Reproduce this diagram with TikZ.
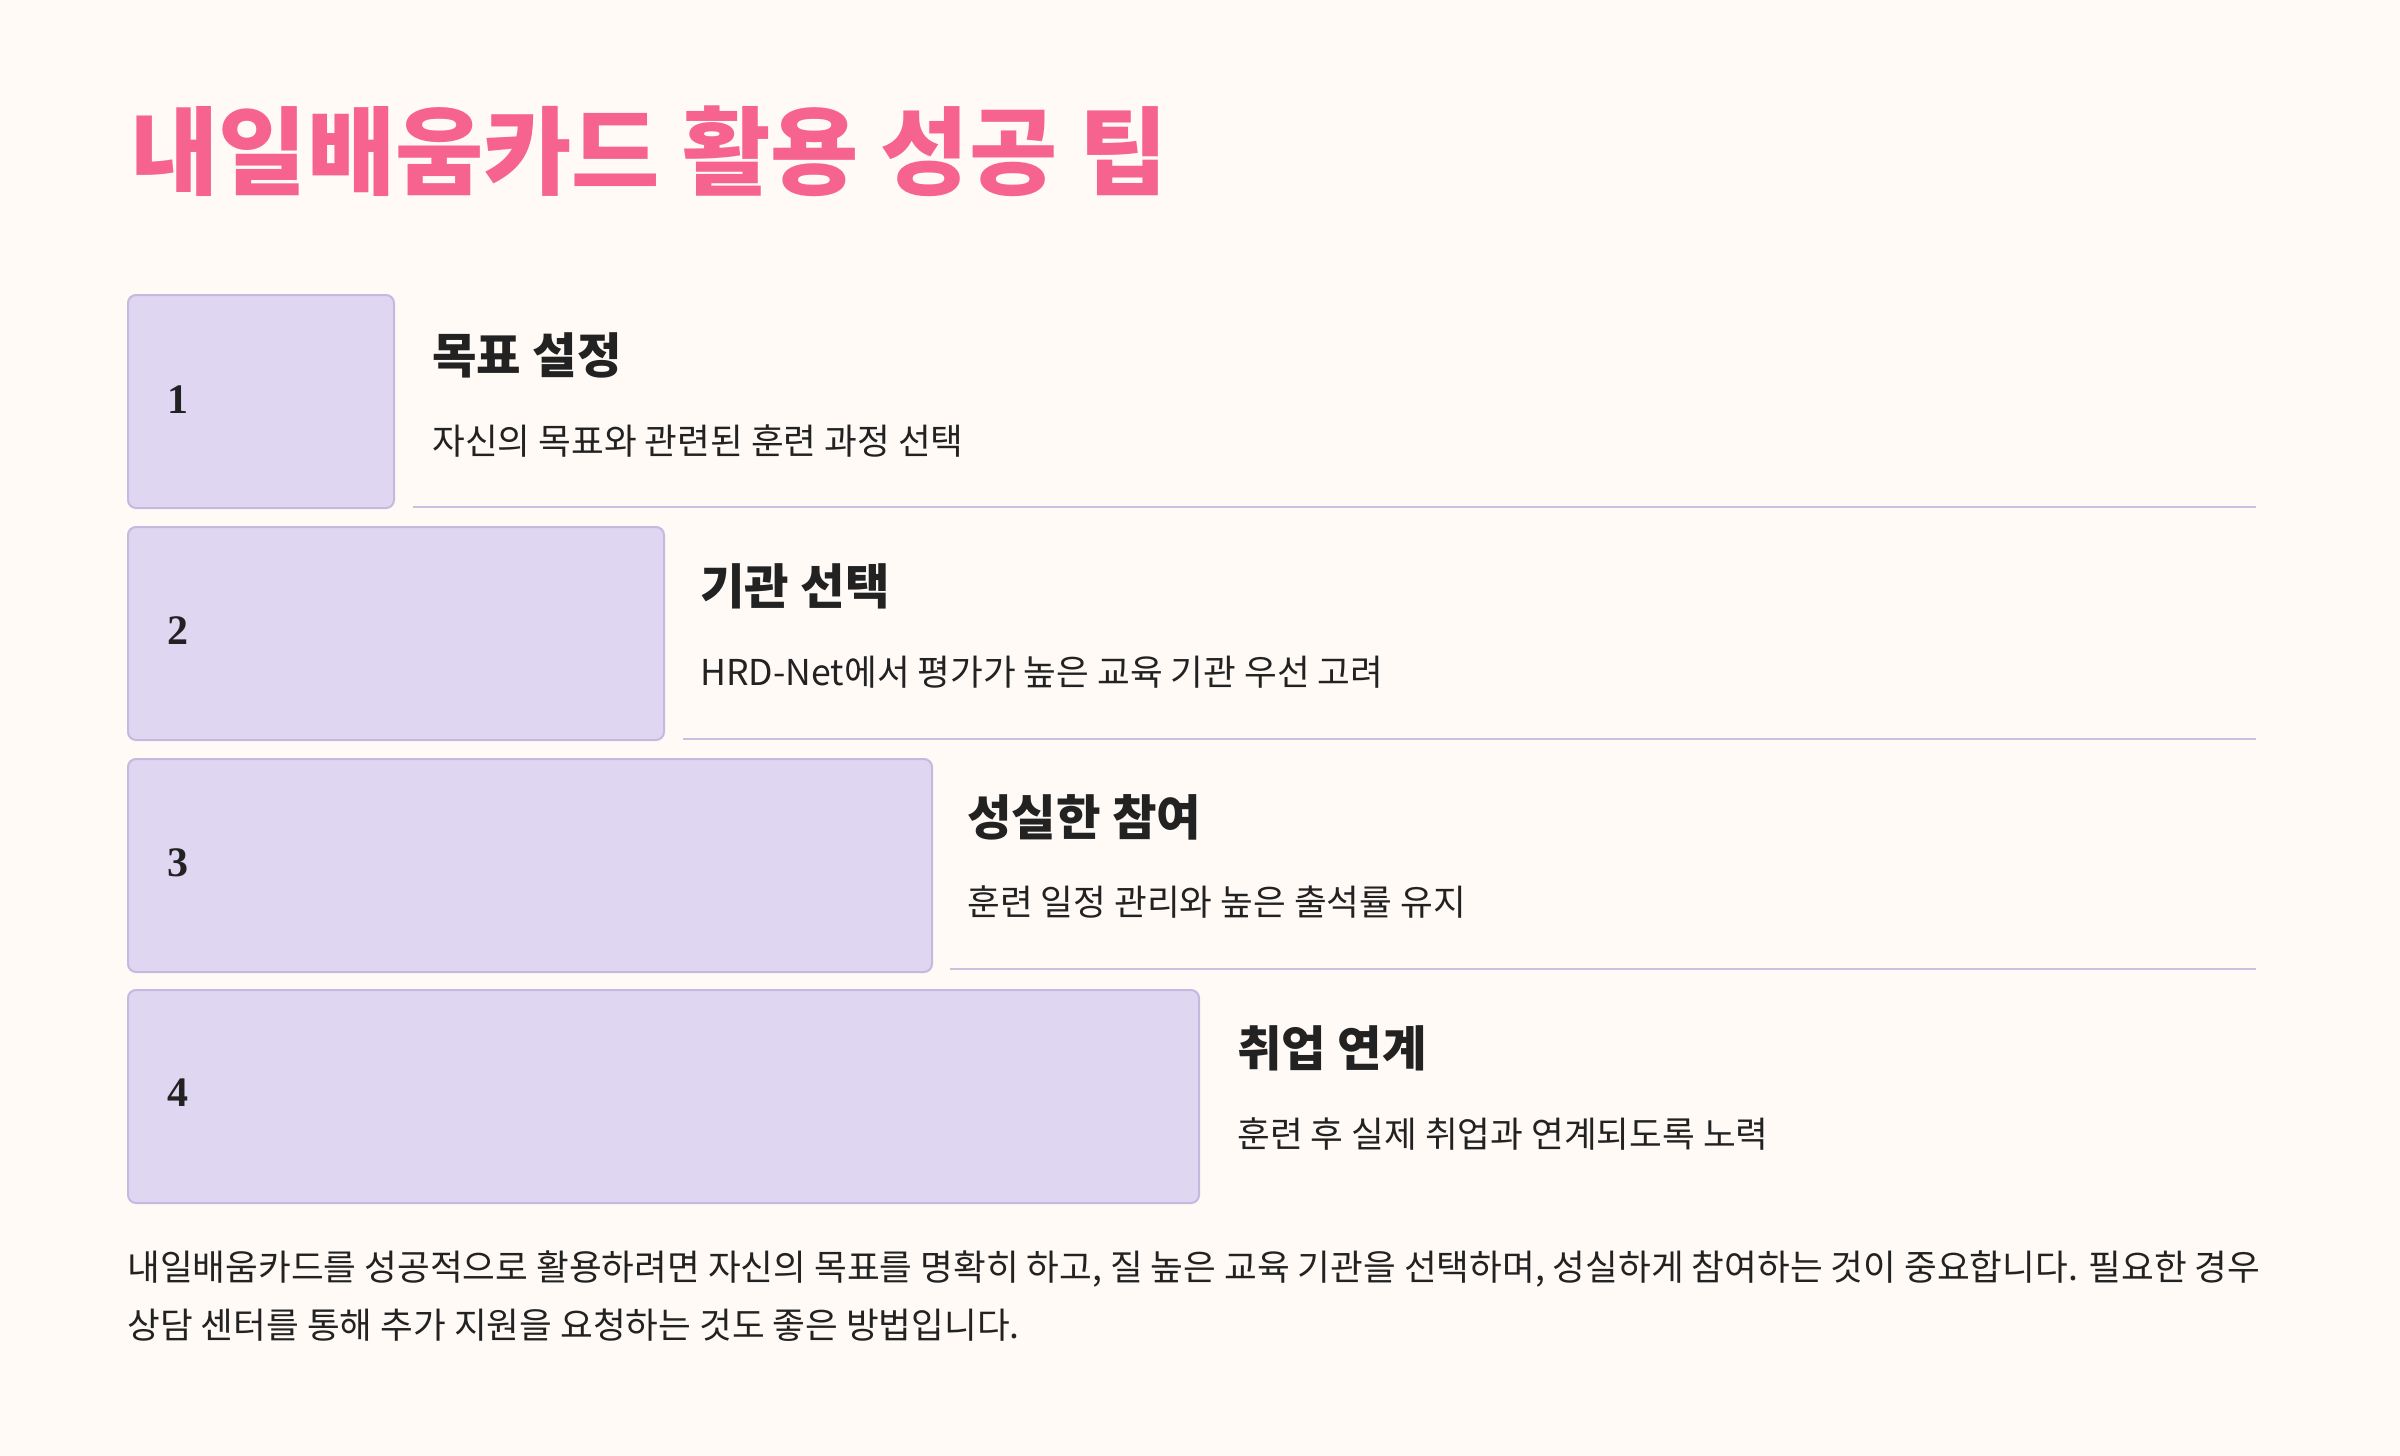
\documentclass[tikz,border=0pt]{standalone}
\usepackage{fontspec}
\setmainfont{Noto Sans CJK KR}
\newfontfamily\numfont{Liberation Serif}
\definecolor{paper}{HTML}{FFFAF6}
\definecolor{titlepink}{HTML}{F5638E}
\definecolor{boxfill}{HTML}{DFD7F2}
\definecolor{boxline}{HTML}{C4BAE0}
\definecolor{rulecol}{HTML}{C9C1DE}
\definecolor{ink}{HTML}{222222}

\begin{document}
\begin{tikzpicture}[x=0.5pt,y=-0.5pt,
    stepbox/.style={draw=boxline, fill=boxfill, line width=1pt, rounded corners=4pt,
      minimum height=106.5pt, anchor=north west, inner sep=0pt},
    numtxt/.style={anchor=west, inner sep=0pt, text=ink, font=\numfont\bfseries\fontsize{21}{21}\selectfont},
    headtxt/.style={anchor=west, inner sep=0pt, text=ink, font=\bfseries\fontsize{24.2}{24.2}\selectfont},
    desctxt/.style={anchor=west, inner sep=0pt, text=ink, font=\fontsize{17.8}{17.8}\selectfont},
    paratxt/.style={anchor=west, inner sep=0pt, text=ink, font=\fontsize{17.8}{17.8}\selectfont},
    sepline/.style={draw=rulecol, line width=1pt}]

    \fill[paper] (0,0) rectangle (2400,1456);
    \useasboundingbox (0,0) rectangle (2400,1456);

    \node[anchor=west, inner sep=0pt, text=titlepink, font=\bfseries\fontsize{48}{48}\selectfont] (title) at (130,151) {내일배움카드 활용 성공 팁};

    % step 1
    \node[stepbox, minimum width=133pt] (box1) at (127,294) {};
    \node[numtxt] (num1) at (167,400) {1};
    \node[headtxt] (head1) at (432,355) {목표 설정};
    \node[desctxt] (desc1) at (432,441) {자신의 목표와 관련된 훈련 과정 선택};
    \draw[sepline] (413,507) -- (2256,507);

    % step 2
    \node[stepbox, minimum width=268pt] (box2) at (127,526) {};
    \node[numtxt] (num2) at (167,631) {2};
    \node[headtxt] (head2) at (700,586) {기관 선택};
    \node[desctxt] (desc2) at (700,672) {HRD-Net에서 평가가 높은 교육 기관 우선 고려};
    \draw[sepline] (683,739) -- (2256,739);

    % step 3
    \node[stepbox, minimum width=402pt] (box3) at (127,758) {};
    \node[numtxt] (num3) at (167,863) {3};
    \node[headtxt] (head3) at (967,817) {성실한 참여};
    \node[desctxt] (desc3) at (967,902) {훈련 일정 관리와 높은 출석률 유지};
    \draw[sepline] (950,969) -- (2256,969);

    % step 4
    \node[stepbox, minimum width=535.5pt] (box4) at (127,989) {};
    \node[numtxt] (num4) at (167,1093) {4};
    \node[headtxt] (head4) at (1237,1048) {취업 연계};
    \node[desctxt] (desc4) at (1237,1134) {훈련 후 실제 취업과 연계되도록 노력};

    \node[paratxt] (para1) at (127,1269) {내일배움카드를 성공적으로 활용하려면 자신의 목표를 명확히 하고, 질 높은 교육 기관을 선택하며, 성실하게 참여하는 것이 중요합니다. 필요한 경우};
    \node[paratxt] (para2) at (127,1325) {상담 센터를 통해 추가 지원을 요청하는 것도 좋은 방법입니다.};

\end{tikzpicture}
\end{document}
